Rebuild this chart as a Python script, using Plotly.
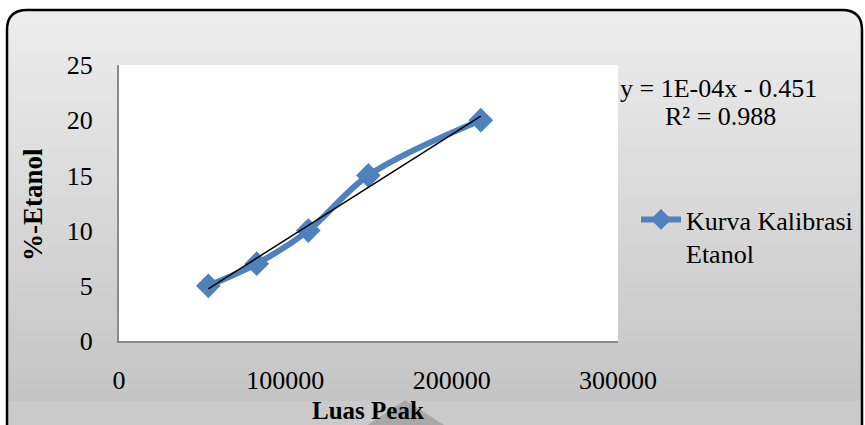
import numpy as np
import plotly.graph_objects as go

# ---- data ----
luas_peak = [53700, 82800, 113800, 149900, 217500]
persen_etanol = [5, 7, 10, 15, 20]
series_name = "Kurva Kalibrasi<br>Etanol"
eq_line1 = "y = 1E-04x - 0.451"
eq_line2 = "R² = 0.988"
x_title = "Luas Peak"
y_title = "%-Etanol"
x_ticks = [0, 100000, 200000, 300000]
y_ticks = [0, 5, 10, 15, 20, 25]

# ---- layout geometry (pixels) ----
W, H = 865, 425
L, R, T, B = 119, 618, 65, 341


def X(px):
    return (px - L) / (R - L)


def Y(py):
    return (B - py) / (B - T)


# trendline from linear fit of the data
slope, intercept = np.polyfit(luas_peak, persen_etanol, 1)
tx = [min(luas_peak), max(luas_peak)]
ty = [slope * v + intercept for v in tx]

FONT = "Liberation Serif, Times New Roman, serif"
FS = 26

fig = go.Figure()
fig.add_trace(go.Scatter(
    x=luas_peak, y=persen_etanol, mode="lines+markers", name=series_name,
    line=dict(color="#4F81BD", width=6, shape="spline", smoothing=1.0),
    marker=dict(symbol="diamond", size=19, color="#4F81BD"),
))
fig.add_trace(go.Scatter(
    x=tx, y=ty, mode="lines", showlegend=False,
    line=dict(color="black", width=1.5),
))

# ---- background: gradient chart area with rounded border ----
shapes = []
left, right, top, bottom = 7, 862, 10, 445
band_y = 401
c_top, c_bot = np.array([237, 237, 237]), np.array([196, 196, 196])
step = 4
for y0 in range(top, band_y, step):
    y1 = min(y0 + step, band_y)
    f = (y0 - top) / (band_y - top)
    c = (c_top + (c_bot - c_top) * f).round().astype(int)
    shapes.append(dict(type="rect", xref="paper", yref="paper", layer="below",
                       x0=X(left), x1=X(right), y0=Y(y1), y1=Y(y0),
                       fillcolor=f"rgb({c[0]},{c[1]},{c[2]})", line=dict(width=0)))
shapes.append(dict(type="rect", xref="paper", yref="paper", layer="below",
                   x0=X(left), x1=X(right), y0=Y(bottom), y1=Y(band_y),
                   fillcolor="rgb(202,202,202)", line=dict(width=0)))
# shadow triangle below the axis title
shapes.append(dict(type="path", xref="paper", yref="paper", layer="below",
                   path=f"M{X(360)},{Y(430)} L{X(405)},{Y(400)} L{X(452)},{Y(430)} Z",
                   fillcolor="rgb(168,168,168)", line=dict(width=0)))
# white corner masks
rad = 20
for (cx, cy, sx, sy) in [(left, top, 1, 1), (right, top, -1, 1)]:
    shapes.append(dict(type="path", xref="paper", yref="paper", layer="below",
                       path=(f"M{X(cx)},{Y(cy)} L{X(cx + sx * rad)},{Y(cy)} "
                             f"Q{X(cx)},{Y(cy)} {X(cx)},{Y(cy + sy * rad)} Z"),
                       fillcolor="white", line=dict(width=0)))
# border
shapes.append(dict(type="path", xref="paper", yref="paper", layer="below",
                   path=(f"M{X(left)},{Y(bottom)} L{X(left)},{Y(top + rad)} "
                         f"Q{X(left)},{Y(top)} {X(left + rad)},{Y(top)} "
                         f"L{X(right - rad)},{Y(top)} "
                         f"Q{X(right)},{Y(top)} {X(right)},{Y(top + rad)} "
                         f"L{X(right)},{Y(bottom)}"),
                   line=dict(color="black", width=2.5)))
# plot area
shapes.append(dict(type="rect", xref="paper", yref="paper", layer="below",
                   x0=0, x1=1, y0=0, y1=1, fillcolor="white", line=dict(width=0)))

txt = dict(family=FONT, size=FS, color="black")
annotations = [
    dict(text=eq_line1, xref="paper", yref="paper", x=X(718), y=Y(88),
         xanchor="center", yanchor="middle", showarrow=False, font=txt),
    dict(text=eq_line2, xref="paper", yref="paper", x=X(720), y=Y(117),
         xanchor="center", yanchor="middle", showarrow=False, font=txt),
    dict(text=f"<b>{x_title}</b>", xref="paper", yref="paper", x=X(368), y=Y(410),
         xanchor="center", yanchor="middle", showarrow=False,
         font=dict(family=FONT, size=25, color="black")),
    dict(text=f"<b>{y_title}</b>", xref="paper", yref="paper", x=X(33), y=Y(205),
         xanchor="center", yanchor="middle", textangle=-90, showarrow=False,
         font=dict(family=FONT, size=27, color="black")),
]

fig.update_layout(
    width=W, height=H,
    margin=dict(l=L, r=W - R, t=T, b=H - B, pad=0, autoexpand=False),
    paper_bgcolor="white", plot_bgcolor="white",
    font=txt,
    shapes=shapes,
    showlegend=True,
    legend=dict(x=X(636), y=Y(196), xanchor="left", yanchor="top",
                bgcolor="rgba(0,0,0,0)", valign="top", itemwidth=40,
                font=txt, tracegroupgap=0),
    annotations=annotations,
)
fig.update_xaxes(
    range=[0, 300000], tickvals=x_ticks, tickformat="d", automargin=False,
    showgrid=False, zeroline=False, showline=True, linecolor="#8a8a8a", linewidth=2,
    ticks="", ticklabelstandoff=15,
)
fig.update_yaxes(
    range=[0, 25], tickvals=y_ticks, automargin=False,
    showgrid=False, zeroline=False, showline=True, linecolor="#8a8a8a", linewidth=2,
    ticks="", ticklabelstandoff=19,
)

fig.write_html("out.html", config={"displayModeBar": False},
               post_script="document.body.style.margin='0';")
